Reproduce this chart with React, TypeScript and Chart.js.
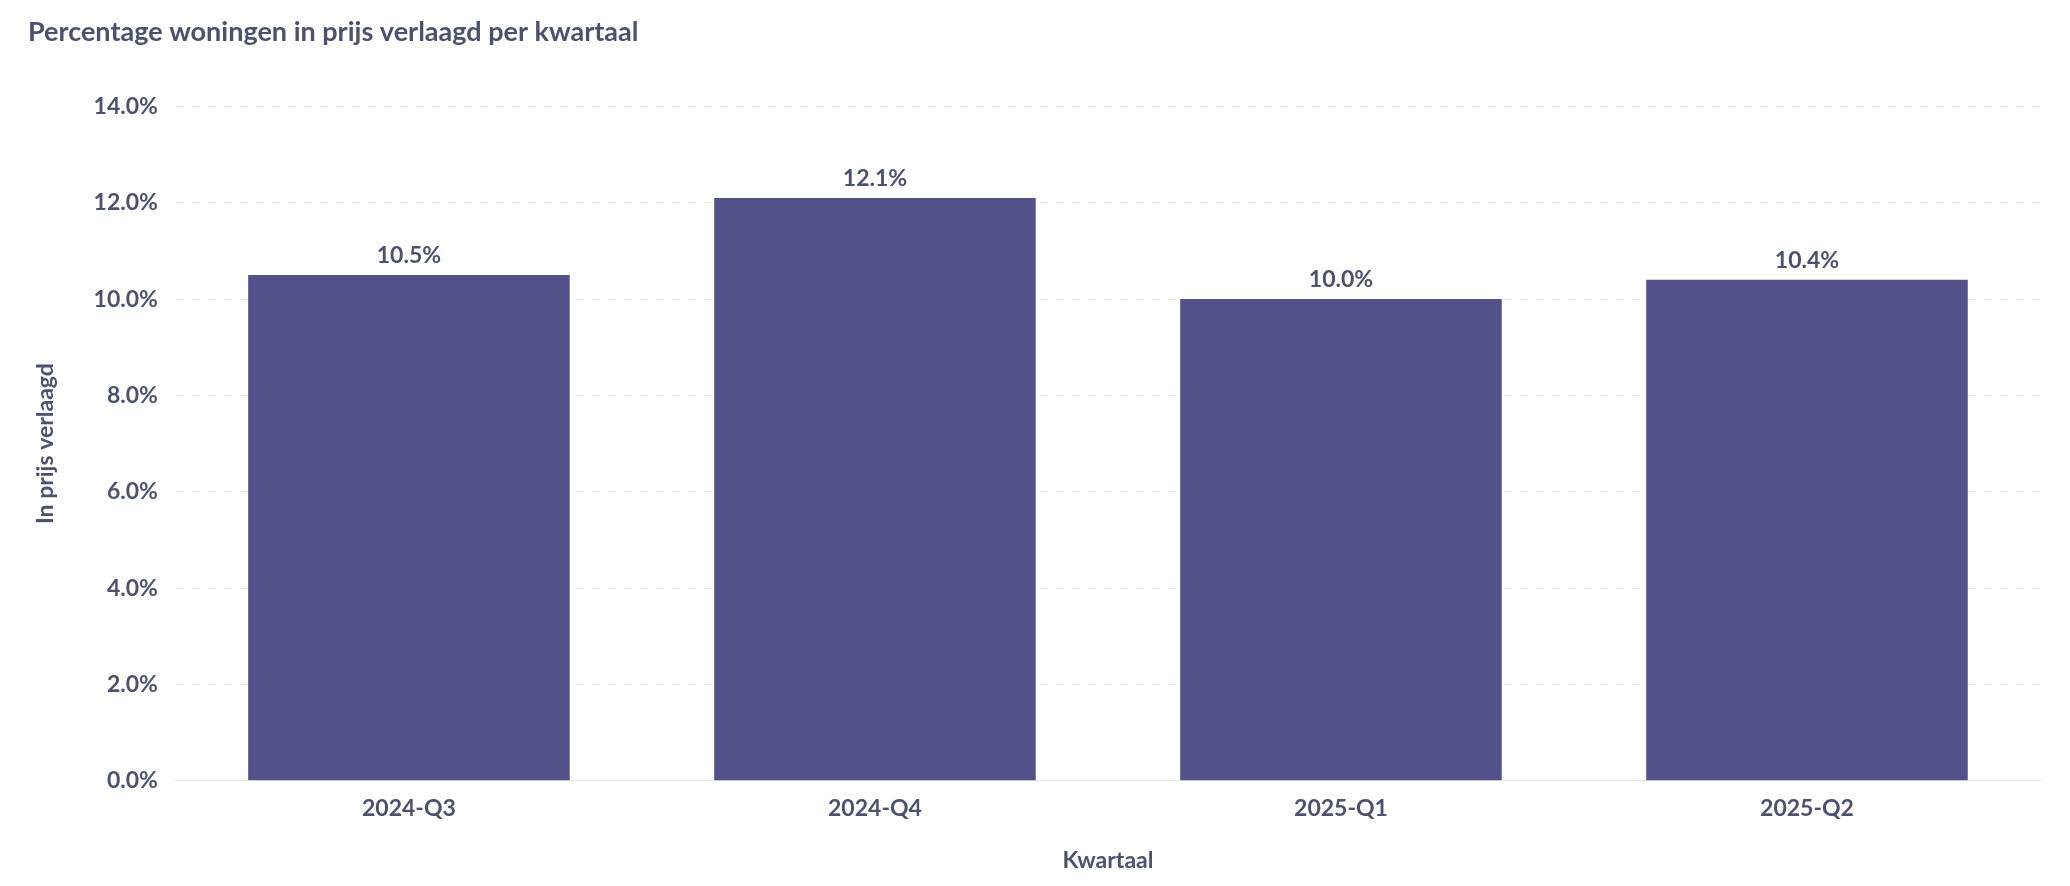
import React, { useEffect, useRef } from "react";
import { Chart, registerables } from "chart.js";
Chart.register(...registerables);

const categories = ["2024-Q3", "2024-Q4", "2025-Q1", "2025-Q2"];
const values = [10.5, 12.1, 10.0, 10.4];
const TXT = "#4b526e";

const labelPlugin = {
  id: "vals",
  afterDatasetsDraw(chart: any) {
    const ctx = chart.ctx;
    const meta = chart.getDatasetMeta(0);
    ctx.save();
    ctx.font = "bold 23px Lato";
    ctx.fillStyle = TXT;
    ctx.textAlign = "center";
    ctx.textBaseline = "bottom";
    meta.data.forEach((b: any, i: number) => {
      ctx.fillText(values[i].toFixed(1) + "%", b.x, b.y - 8);
    });
    ctx.restore();
  },
};

export default function App() {
  const ref = useRef<HTMLCanvasElement>(null);
  useEffect(() => {
    const c = new Chart(ref.current!, {
      type: "bar",
      data: {
        labels: categories,
        datasets: [{ data: values, backgroundColor: "#525189", categoryPercentage: 0.69, barPercentage: 1 }],
      },
      options: {
        animation: false,
        responsive: false,
        layout: { padding: { left: 20, right: 22, top: 0, bottom: 0 } },
        plugins: {
          legend: { display: false },
          tooltip: { enabled: false },
          title: {
            display: true,
            text: "Percentage woningen in prijs verlaagd per kwartaal",
            align: "start",
            color: TXT,
            font: { family: "Lato", size: 27, weight: "bold" },
            padding: { top: 8, bottom: 58 },
          },
        },
        scales: {
          x: {
            grid: { display: false },
            border: { color: "#e3e3e8" },
            ticks: { color: TXT, font: { family: "Lato", size: 23, weight: "bold" }, padding: 6 },
            title: { display: true, text: "Kwartaal", color: TXT, font: { family: "Lato", size: 23, weight: "bold" }, padding: { top: 18 } },
          },
          y: {
            min: 0,
            max: 14,
            ticks: { stepSize: 2, color: TXT, font: { family: "Lato", size: 23, weight: "bold" }, padding: 18, callback: (v: any) => Number(v).toFixed(1) + "%" },
            grid: { color: "#e6e6ea", drawTicks: false },
            border: { display: false, dash: [8, 8] },
            title: { display: true, text: "In prijs verlaagd", color: TXT, font: { family: "Lato", size: 23, weight: "bold" }, padding: { bottom: 16 } },
          },
        },
      },
      plugins: [labelPlugin],
    } as any);
    return () => c.destroy();
  }, []);
  return (
    <div style={{ background: "#fff" }}>
      <canvas ref={ref} width={2054} height={870} style={{ width: 2054, height: 870 }} />
    </div>
  );
}
